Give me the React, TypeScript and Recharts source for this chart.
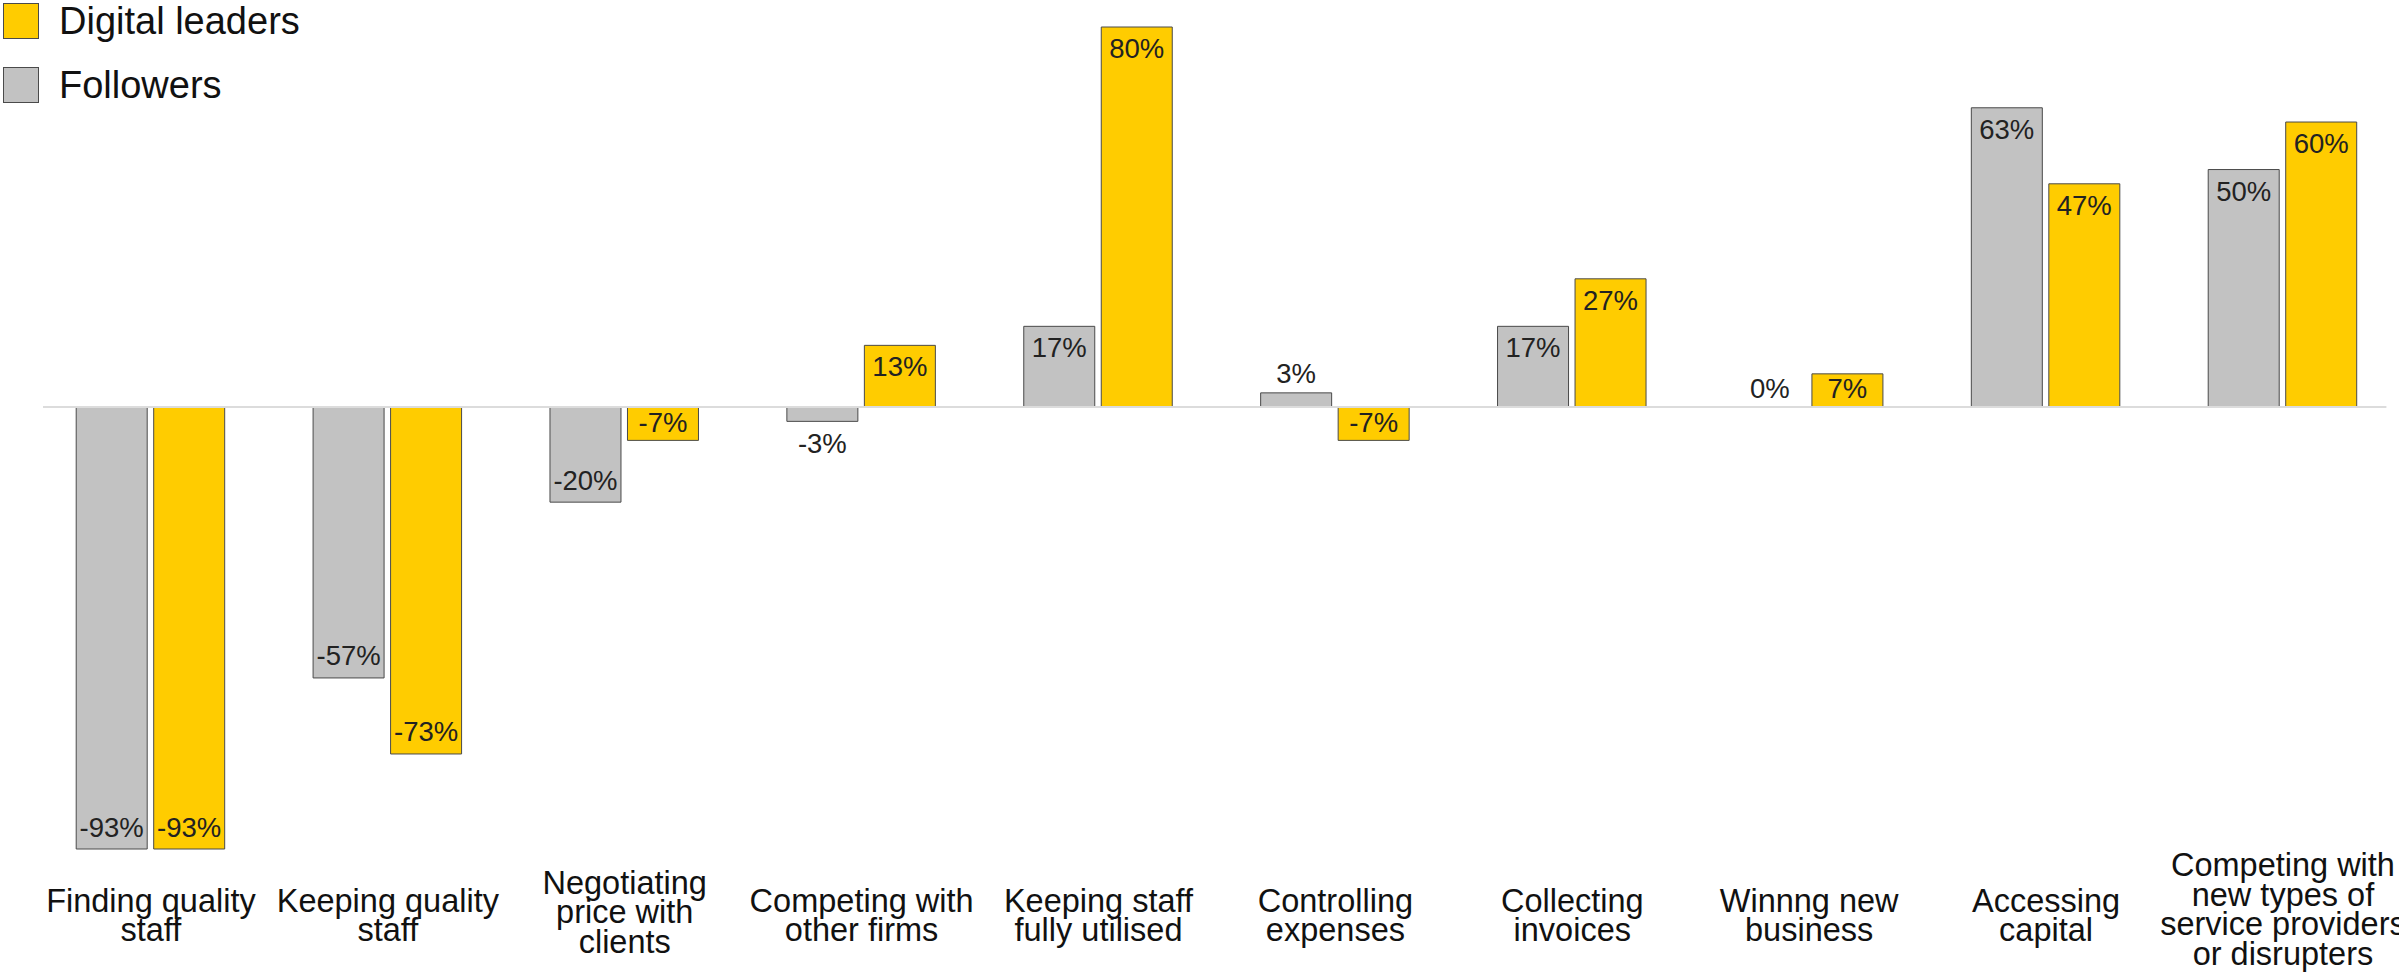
import { Bar, BarChart, Cell, LabelList, Legend, ReferenceLine, XAxis, YAxis } from "recharts";

document.body.style.margin = "0";

const categories = [
  "Finding quality\nstaff",
  "Keeping quality\nstaff",
  "Negotiating\nprice with\nclients",
  "Competing with\nother firms",
  "Keeping staff\nfully utilised",
  "Controlling\nexpenses",
  "Collecting\ninvoices",
  "Winnng new\nbusiness",
  "Accessing\ncapital",
  "Competing with\nnew types of\nservice providers\nor disrupters",
];
const followers = [-93, -57, -20, -3, 17, 3, 17, 0, 63, 50];
const leaders = [-93, -73, -7, 13, 80, -7, 27, 7, 47, 60];
const legendNames = ["Digital leaders", "Followers"];

const FONT = "'Liberation Sans', Arial, sans-serif";
const YELLOW = "#FFCC00";
const GRAY = "#C2C2C2";
const EDGE = "#4a4a4a";
const legendColors = [YELLOW, GRAY];

const data = categories.map((name, i) => ({
  name,
  followers: followers[i],
  leaders: leaders[i],
}));

function CategoryTick({ x, y, payload }: any) {
  const lines = String(payload.value).split("\n");
  const first = y + 62.7 - (lines.length - 2) * 17.8;
  return (
    <text x={x} y={first} textAnchor="middle" fontSize={32.5} fontFamily={FONT} fill="#111">
      {lines.map((l, i) => (
        <tspan key={i} x={x} y={first + i * 29.5}>
          {l}
        </tspan>
      ))}
    </text>
  );
}

function ValueLabel({ x, y, width, height, value }: any) {
  const top = Math.min(y, y + height);
  const bottom = Math.max(y, y + height);
  const mid = (top + bottom) / 2;
  let ty: number;
  if (value === 0) {
    ty = bottom - 9;
  } else if (Math.abs(value) < 5) {
    ty = value > 0 ? top - 10 : bottom + 32;
  } else if (value > 0) {
    ty = Math.min(top + 31, mid + 7.5);
  } else {
    ty = Math.max(bottom - 12.5, mid + 8);
  }
  return (
    <text x={x + width / 2} y={ty} textAnchor="middle" fontSize={27.5} fontFamily={FONT} fill="#222">
      {`${value}%`}
    </text>
  );
}

function LegendBox() {
  return (
    <div style={{ fontFamily: FONT, fontSize: 38, color: "#111", lineHeight: 1 }}>
      {legendNames.map((name, i) => (
        <div key={name} style={{ display: "flex", alignItems: "center", height: 42, marginBottom: 22 }}>
          <span
            style={{
              width: 34,
              height: 34,
              background: legendColors[i],
              border: `1px solid ${EDGE}`,
              marginRight: 20,
              marginLeft: 3,
            }}
          />
          <span>{name}</span>
        </div>
      ))}
    </div>
  );
}

export default function App() {
  return (
    <div style={{ position: "relative", width: 2399, height: 978 }}>
      <BarChart
        width={2399}
        height={978}
        data={data}
        margin={{ top: 27, right: -2.4, left: 32.5, bottom: 9 }}
        barCategoryGap={43.7}
        barGap={6.5}
      >
        <XAxis
          dataKey="name"
          axisLine={false}
          tickLine={false}
          tickSize={0}
          tickMargin={0}
          height={120}
          interval={0}
          tick={<CategoryTick />}
        />
        <YAxis hide domain={[-93, 80]} />
        <ReferenceLine
          y={0}
          stroke="#dcdcdc"
          strokeWidth={2}
          shape={(p: any) => (
            <line x1={p.x1 + 10.5} x2={p.x2 - 15} y1={p.y1} y2={p.y2} stroke="#dcdcdc" strokeWidth={2} />
          )}
        />
        <Legend
          verticalAlign="middle"
          align="center"
          layout="horizontal"
          wrapperStyle={{ top: 0, left: 0, width: 400, height: 130 }}
          content={<LegendBox />}
        />
        <Bar
          dataKey="followers"
          name="Followers"
          fill={GRAY}
          stroke={EDGE}
          strokeWidth={1}
          minPointSize={0.5}
          isAnimationActive={false}
        >
          {followers.map((v, i) => (
            <Cell key={i} fill={v === 0 ? "none" : GRAY} stroke={v === 0 ? "none" : EDGE} />
          ))}
          <LabelList dataKey="followers" content={<ValueLabel />} />
        </Bar>
        <Bar dataKey="leaders" name="Digital leaders" fill={YELLOW} stroke={EDGE} strokeWidth={1} isAnimationActive={false}>
          <LabelList dataKey="leaders" content={<ValueLabel />} />
        </Bar>
      </BarChart>
    </div>
  );
}
